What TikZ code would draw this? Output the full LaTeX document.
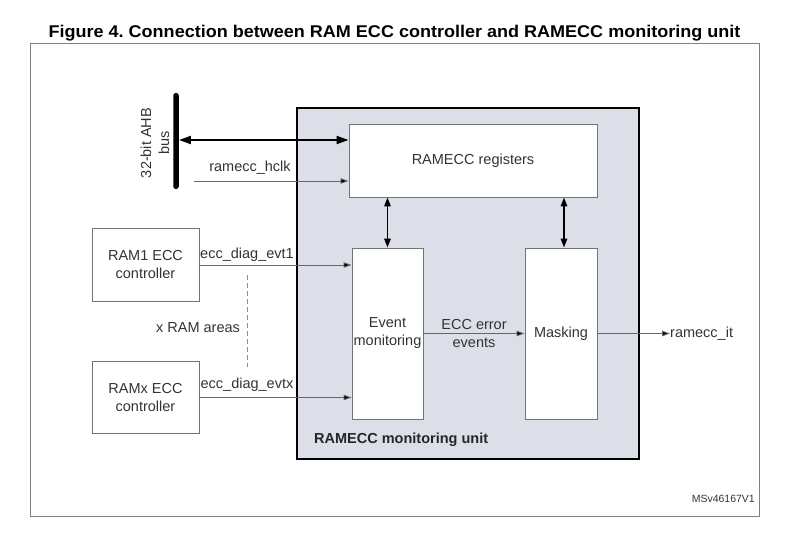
\documentclass[tikz,border=0pt]{standalone}
\usepackage{fontspec}
\setmainfont{Liberation Sans}
\usetikzlibrary{arrows.meta,calc}
\definecolor{unitfill}{HTML}{DCDFE8}
\definecolor{txt}{HTML}{333333}
\begin{document}
\frenchspacing
\begin{tikzpicture}[x=1pt,y=-1pt,
  f/.style={font=\fontsize{14.5}{18}\selectfont},
  box/.style={draw=black!55, line width=0.9pt, fill=white, inner sep=0pt, f, text=txt, align=center},
  lbl/.style={f, text=txt, inner sep=0pt, align=center},
  sig/.style={draw=black!60, line width=0.9pt, -{Triangle[length=8pt,width=5.5pt,fill=black]}},
  vbi/.style={draw=black, line width=1.6pt, {Triangle[length=9pt,width=6.5pt]}-{Triangle[length=9pt,width=6.5pt]}},
  busarrow/.style={draw=black, line width=2pt, {Triangle[length=12pt,width=8pt]}-{Triangle[length=12pt,width=8pt]}}
]
\useasboundingbox (0,0) rectangle (788,537);
% title
\node[font=\bfseries\fontsize{17}{20}\selectfont, inner sep=0pt, anchor=base, xscale=1.06] (title) at (394.5,37.5)
  {Figure 4. Connection between RAM ECC controller and RAMECC monitoring unit};
% outer frame
\node[draw=black!50, line width=1pt, minimum width=729, minimum height=472, inner sep=0pt] (frame) at (394.5,280) {};
% monitoring unit
\node[draw=black, line width=2.5pt, fill=unitfill, minimum width=342, minimum height=351, inner sep=0pt] (unit) at (468,283.5) {};
\node[f, font=\bfseries\fontsize{14.5}{18}\selectfont, text=black!85, anchor=west, inner sep=0pt] (unitlbl) at (314,440) {RAMECC monitoring unit};
% boxes
\node[box, minimum width=248, minimum height=73] (reg) at (473,160.5) {RAMECC registers};
\node[box, minimum width=71, minimum height=171] (evt) at (387.5,333.5) {Event\\monitoring};
\node[box, minimum width=72, minimum height=171] (mask) at (561,333.5) {Masking};
\node[box, minimum width=107, minimum height=73] (ram1) at (145.5,265) {RAM1 ECC\\controller};
\node[box, minimum width=107, minimum height=72] (ramx) at (145.5,397.5) {RAMx ECC\\controller};
% bus
\node[fill=black, rounded corners=2.5pt, minimum width=5.5, minimum height=96, inner sep=0pt] (bus) at (176,141) {};
\node[lbl, rotate=90] (buslbl) at (155,143) {32-bit AHB\\bus};
% connectors
\coordinate (busy) at ([yshift=20.5pt]reg.west);
\draw[busarrow] (bus.east |- busy) -- (busy);
\coordinate (hclkin) at (194,181);
\draw[sig] (hclkin) -- (hclkin -| reg.west);
\node[lbl] (hclklbl) at (250,168) {ramecc\_hclk};
\draw[vbi] (evt.north) -- (evt.north |- reg.south);
\draw[vbi] ([xshift=3pt]mask.north) -- ([xshift=3pt]mask.north |- reg.south);
\draw[sig] (ram1.east) -- (ram1.east -| evt.west);
\node[lbl] (evt1lbl) at (247,255) {ecc\_diag\_evt1};
\draw[sig] (ramx.east) -- (ramx.east -| evt.west);
\node[lbl] (evtxlbl) at (247,385) {ecc\_diag\_evtx};
\coordinate (d1) at (247,275);
\coordinate (d2) at (247,367);
\draw[black!45, line width=0.9pt, dash pattern=on 5pt off 3pt] (d1) -- (d2);
\node[lbl] (xram) at (198,328) {x RAM areas};
\draw[sig] (evt.east) -- (mask.west);
\node[lbl] (ecclbl) at (474,334) {ECC error\\events};
\coordinate (itout) at (670,333.5);
\draw[sig] (mask.east) -- (itout);
\node[lbl, anchor=west] (itlbl) at (itout) {ramecc\_it};
\node[font=\fontsize{10.5}{12}\selectfont, text=txt, anchor=east, inner sep=0pt] (ms) at (755,499) {MSv46167V1};
\end{tikzpicture}
\end{document}
